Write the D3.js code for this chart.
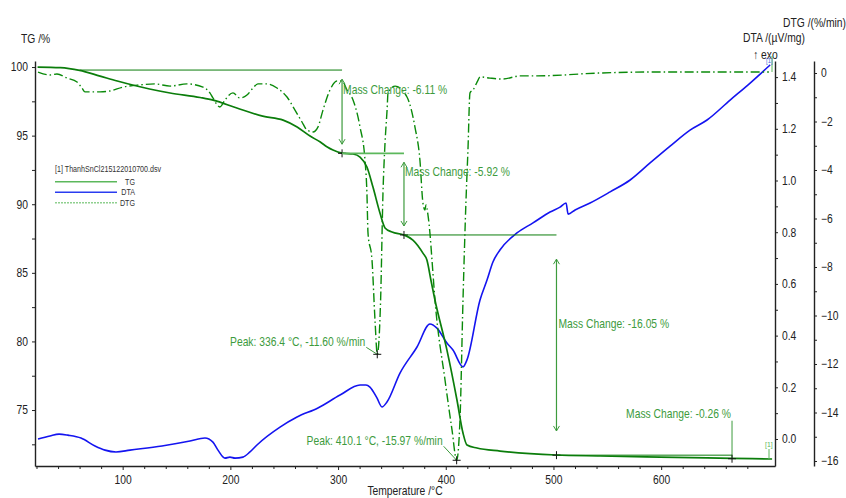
<!DOCTYPE html>
<html>
<head>
<meta charset="utf-8">
<script src="https://cdn.jsdelivr.net/npm/d3@7/dist/d3.min.js"></script>
<style>
  html, body { margin: 0; padding: 0; background: #fff; }
  svg { display: block; font-family: "Liberation Sans Narrow", "Arial Narrow", "Liberation Sans", Arial, sans-serif; }
</style>
</head>
<body>
<div id="chart"></div>
<script>
// TG curve (temperature °C, mass %)
const tgTemp = [21, 42, 60, 79, 95, 125, 144, 172, 184, 206, 230, 249, 262, 274, 283.5, 290, 295.3, 303.7, 314, 320.4,
  326.8, 332.4, 338.9, 343.6, 350.1, 361.2, 369.5, 378.8, 382.5, 386.2, 390, 401.1, 410.4, 416, 419.7, 429, 450.4,
  502.5, 543.3, 599, 665.8, 703];
const tgVal = [100.0, 99.96, 99.76, 99.34, 98.98, 98.40, 98.11, 97.78, 97.59, 97.01, 96.42, 96.13, 95.63, 94.97, 94.53, 94.17, 93.95, 93.73, 93.66, 93.44,
  92.71, 91.25, 89.36, 88.27, 87.97, 87.76, 87.39, 86.44, 85.93, 84.48, 83.0, 79.37, 75.73, 73.32, 72.45, 72.23, 72.01,
  71.72, 71.65, 71.57, 71.48, 71.43];

// DTA curve (temperature °C, µV/mg)
const dtaTemp = [21.4, 32.5, 40.9, 49.2, 61.3, 74.3, 83.6, 93.8, 106.8, 136.5, 162.5, 176.4, 183.8, 188.5, 195, 199.6, 204.3, 211.7, 218.2, 224.7,
  246.1, 261.9, 281.3, 301.8, 320.4, 325.9, 329.6, 336.1, 340.8, 345.4, 357.5, 373.3, 385.3, 391.8, 401.1, 406.7, 416, 419.7, 431.8, 438.3,
  443.8, 450.3, 466.1, 481, 496.8, 506.1, 511.7, 513.6, 520.1, 534, 552.6, 571.2, 589.7, 608.3, 626.8, 642.6, 664, 682.6, 701.2];
const dtaVal = [0.000, 0.012, 0.019, 0.015, 0.004, -0.027, -0.043, -0.050, -0.043, -0.027, -0.008, 0.004, -0.012, -0.043, -0.074, -0.070, -0.074, -0.070, -0.050, -0.023,
  0.046, 0.085, 0.120, 0.170, 0.209, 0.209, 0.201, 0.159, 0.124, 0.143, 0.255, 0.356, 0.445, 0.429, 0.371, 0.344, 0.279, 0.306, 0.538, 0.615,
  0.685, 0.731, 0.797, 0.836, 0.878, 0.897, 0.913, 0.870, 0.886, 0.913, 0.956, 1.002, 1.068, 1.133, 1.195, 1.234, 1.311, 1.377, 1.447];

// DTG curve (temperature °C, %/min)
const dtgTemp = [21.4, 32.5, 39, 48.3, 57.6, 62.2, 65, 79, 88.2, 100.3, 116, 130, 144, 159.7, 174.6, 181, 183.8, 190.3, 195, 202.4,
  208.8, 215.4, 221, 225.6, 234, 243.3, 252.6, 260, 266.5, 271.1, 276.7, 281.3, 286, 292.5, 299, 303.7, 308.3, 313.9, 320.4, 325,
  326.8, 327.8, 331.5, 334.3, 336.4, 339.5, 341.7, 343.6, 345.5, 346.4, 353, 364, 371.4, 376, 378.8, 380.7, 381.6, 383.5, 385.3, 387.2,
  390, 399.3, 405.8, 410.1, 413.2, 416, 418.8, 420.6, 422.5, 425.3, 430, 431.8, 441, 453, 468.9, 484.7, 543, 589.6, 636, 700];
const dtgVal = [0.04, -0.08, -0.04, -0.21, -0.37, -0.62, -0.78, -0.78, -0.74, -0.58, -0.49, -0.45, -0.54, -0.45, -0.58, -0.82, -1.03, -1.40, -1.11, -0.82,
  -1.03, -0.91, -0.62, -0.45, -0.45, -0.62, -0.99, -1.53, -2.02, -2.35, -2.43, -2.23, -1.53, -0.70, -0.33, -0.33, -0.70, -1.11, -2.23, -3.59,
  -4.95, -6.60, -7.71, -10.19, -11.60, -9.36, -4.95, -2.89, -1.53, -0.82, -0.54, -0.99, -2.23, -3.59, -5.36, -5.65, -5.44, -5.86, -6.60, -7.71,
  -9.36, -12.66, -14.72, -15.97, -14.31, -9.36, -5.24, -3.18, -0.82, -0.70, -0.29, -0.16, -0.21, -0.25, -0.12, -0.12, 0.0, 0.04, 0.04, 0.04];

// ticks
const xTicks = [100, 200, 300, 400, 500, 600];
const tgTicks = [75, 80, 85, 90, 95, 100];
const dtaTicks = [0.0, 0.2, 0.4, 0.6, 0.8, 1.0, 1.2, 1.4];
const dtgTicks = [0, -2, -4, -6, -8, -10, -12, -14, -16];

// mass-change steps: horizontal from t0 to t1 at "from", arrow at t1 down to "to"
const stepT0 = [60, 303.7, 361.2, 502.8];
const stepT1 = [303.7, 361.2, 502.8, 665.8];
const stepFrom = [99.78, 93.71, 87.76, 71.71];
const stepTo = [93.71, 87.76, 71.71, 71.45];
const stepLabels = ['Mass Change: -6.11 %', 'Mass Change: -5.92 %', 'Mass Change: -16.05 %', 'Mass Change: -0.26 %'];

// DTG peaks
const peakT = [336.4, 410.1];
const peakV = [-11.60, -15.97];

const W = 846, H = 498;
const plot = { left: 35, right: 775, top: 61, bottom: 466 };
const dtgAxisX = 814;

const cTG = '#0b7d0b', cDTA = '#1414f0', cDTG = '#0a8a0a', cNote = '#3d9b3d';

const svg = d3.select('#chart').append('svg').attr('width', W).attr('height', H);

const x = d3.scaleLinear().domain([18.6, 705.7]).range([plot.left, plot.right]);
const yTG = d3.scaleLinear().domain([70.92, 100.44]).range([plot.bottom, plot.top]);
const yDTA = d3.scaleLinear().domain([-0.1044, 1.4623]).range([plot.bottom, plot.top]);
const yDTG = d3.scaleLinear().domain([-16.206, 0.495]).range([plot.bottom, plot.top]);

// axes
function styleAxis(g, fs) {
  g.select('.domain').attr('stroke', '#222').attr('stroke-width', 1.4);
  g.selectAll('.tick line').attr('stroke', '#222');
  g.selectAll('.tick text').attr('fill', '#222').attr('font-size', fs).attr('font-family', null);
}

function minorTicks(axis, transform) {
  svg.append('g').attr('transform', transform)
    .call(axis.tickSize(3).tickFormat(''))
    .call(g => { g.select('.domain').remove(); g.selectAll('line').attr('stroke', '#222'); });
}

const xAxis = svg.append('g').attr('transform', `translate(0,${plot.bottom})`)
  .call(d3.axisBottom(x).tickValues(xTicks).tickSize(4).tickSizeOuter(0).tickPadding(5));
styleAxis(xAxis, 12);
minorTicks(d3.axisBottom(x).tickValues(d3.range(20, 701, 20).filter(v => v % 100 !== 0)), `translate(0,${plot.bottom})`);

const leftAxis = svg.append('g').attr('transform', `translate(${plot.left},0)`)
  .call(d3.axisLeft(yTG).tickValues(tgTicks).tickSize(3).tickSizeOuter(0).tickPadding(4));
styleAxis(leftAxis, 12);
minorTicks(d3.axisLeft(yTG).tickValues([72.5, 77.5, 82.5, 87.5, 92.5, 97.5]), `translate(${plot.left},0)`);

const dtaAxis = svg.append('g').attr('transform', `translate(${plot.right},0)`)
  .call(d3.axisRight(yDTA).tickValues(dtaTicks).tickFormat(d3.format('.1f')).tickSize(3).tickSizeOuter(0).tickPadding(4));
styleAxis(dtaAxis, 12);
minorTicks(d3.axisRight(yDTA).tickValues([0.1, 0.3, 0.5, 0.7, 0.9, 1.1, 1.3]), `translate(${plot.right},0)`);

const dtgAxis = svg.append('g').attr('transform', `translate(${dtgAxisX},0)`)
  .call(d3.axisRight(yDTG).tickValues(dtgTicks).tickSize(3).tickSizeOuter(0).tickPadding(4));
styleAxis(dtgAxis, 12);
minorTicks(d3.axisRight(yDTG).tickValues(d3.range(-15, 0, 2)), `translate(${dtgAxisX},0)`);

// axis titles
const titles = svg.append('g').attr('fill', '#222').attr('font-size', 12);
titles.append('text').attr('x', 21).attr('y', 43).text('TG /%');
titles.append('text').attr('x', 783).attr('y', 27).text('DTG /(%/min)');
titles.append('text').attr('x', 743).attr('y', 42).text('DTA /(µV/mg)');
titles.append('text').attr('x', 753).attr('y', 59).text('↑ exo');
titles.append('text').attr('x', 405).attr('y', 495).attr('text-anchor', 'middle').text('Temperature /°C');

// curves
const tgData = tgTemp.map((t, i) => [t, tgVal[i]]);
const dtaData = dtaTemp.map((t, i) => [t, dtaVal[i]]);
const dtgData = dtgTemp.map((t, i) => [t, dtgVal[i]]);

svg.append('path').datum(dtaData)
  .attr('fill', 'none').attr('stroke', cDTA).attr('stroke-width', 1.6)
  .attr('d', d3.line().x(d => x(d[0])).y(d => yDTA(d[1])).curve(d3.curveMonotoneX));

svg.append('path').datum(dtgData)
  .attr('fill', 'none').attr('stroke', cDTG).attr('stroke-width', 1.4)
  .attr('stroke-dasharray', '9,3,1.5,3')
  .attr('d', d3.line().x(d => x(d[0])).y(d => yDTG(d[1])).curve(d3.curveMonotoneX));

svg.append('path').datum(tgData)
  .attr('fill', 'none').attr('stroke', cTG).attr('stroke-width', 1.7)
  .attr('d', d3.line().x(d => x(d[0])).y(d => yTG(d[1])).curve(d3.curveMonotoneX));

// markers
function cross(px, py) {
  svg.append('path')
    .attr('d', `M${px - 4},${py}H${px + 4}M${px},${py - 4}V${py + 4}`)
    .attr('stroke', '#111').attr('stroke-width', 1);
}

function arrowHead(px, py, dir) {
  // dir = 1 points down, -1 points up
  svg.append('path')
    .attr('d', `M${px - 3},${py - 5 * dir}L${px},${py}L${px + 3},${py - 5 * dir}`)
    .attr('fill', 'none').attr('stroke', cNote).attr('stroke-width', 1);
}

// mass change annotations
const notes = svg.append('g').attr('fill', cNote).attr('font-size', 12);
stepT1.forEach((t1, i) => {
  const xa = x(t1);
  const yFrom = yTG(stepFrom[i]);
  const yTo = yTG(stepTo[i]);
  svg.append('line')
    .attr('x1', x(stepT0[i])).attr('x2', xa)
    .attr('y1', yFrom).attr('y2', yFrom)
    .attr('stroke', i === 1 ? '#5cb85c' : cTG).attr('stroke-width', i === 1 ? 1.6 : 1);

  if (i < 3) {
    const pad = (yTo - yFrom) * 0.11;
    svg.append('line').attr('x1', xa).attr('x2', xa)
      .attr('y1', yFrom + pad).attr('y2', yTo - pad)
      .attr('stroke', cNote).attr('stroke-width', 1.2);
    arrowHead(xa, yTo - pad, 1);
    arrowHead(xa, yFrom + pad, -1);
  } else {
    svg.append('line').attr('x1', xa).attr('x2', xa)
      .attr('y1', yTo - 38).attr('y2', yTo)
      .attr('stroke', cNote).attr('stroke-width', 1);
  }
  cross(xa, yTo);

  const lbl = notes.append('text').text(stepLabels[i]);
  if (i === 0) lbl.attr('x', xa + 1).attr('y', yFrom + 24);
  else if (i === 1) lbl.attr('x', xa + 1).attr('y', yFrom + 23);
  else if (i === 2) lbl.attr('x', xa + 2).attr('y', (yFrom + yTo) / 2 - 17);
  else lbl.attr('x', xa - 1).attr('y', yTo - 41).attr('text-anchor', 'end');
});

// peak annotations
peakT.forEach((t, i) => {
  const px = x(t), py = yDTG(peakV[i]);
  const dx = i === 0 ? 12 : 14, dy = i === 0 ? 8 : 15;
  svg.append('line')
    .attr('x1', px - dx + 1).attr('y1', py - dy + 1)
    .attr('x2', px).attr('y2', py)
    .attr('stroke', cNote).attr('stroke-width', 1);
  cross(px, py);
  notes.append('text')
    .attr('x', px - dx).attr('y', py - dy)
    .attr('text-anchor', 'end')
    .text(`Peak: ${t.toFixed(1)} °C, ${peakV[i].toFixed(2)} %/min`);
});

// curve end labels "[1]"
svg.append('line').attr('x1', 769).attr('x2', 769).attr('y1', 449).attr('y2', 459)
  .attr('stroke', '#5cb85c').attr('stroke-width', 1);
svg.append('text').attr('x', 765).attr('y', 447).attr('font-size', 8)
  .attr('fill', '#5cb85c').text('[1]');
svg.append('line').attr('x1', 772).attr('x2', 772).attr('y1', 56).attr('y2', 72)
  .attr('stroke', '#5cb85c').attr('stroke-width', 1);
svg.append('text').attr('x', 766).attr('y', 63).attr('font-size', 7)
  .attr('fill', '#4a6ad8').text('[1]');

// legend
const legend = svg.append('g').attr('font-size', 8.3).attr('fill', '#333');
legend.append('text').attr('x', 55).attr('y', 172).text('[1] ThanhSnCl215122010700.dsv');
const legendItems = [
  { name: 'TG', color: '#5cb85c', dash: null, y: 181.7 },
  { name: 'DTA', color: '#2a3cf0', dash: null, y: 192.3 },
  { name: 'DTG', color: '#8fd08f', dash: '2,1', y: 202.7 }
];
legendItems.forEach(it => {
  legend.append('line').attr('x1', 55).attr('x2', 117).attr('y1', it.y).attr('y2', it.y)
    .attr('stroke', it.color).attr('stroke-width', 1.5).attr('stroke-dasharray', it.dash);
  legend.append('text').attr('x', 135).attr('y', it.y + 3).attr('text-anchor', 'end').text(it.name);
});

// the original uses a condensed face; squeeze every text round its anchor
svg.selectAll('text').each(function () {
  const t = d3.select(this);
  const tx = +t.attr('x') || 0, ty = +t.attr('y') || 0;
  t.attr('transform', `translate(${tx},${ty}) scale(0.86,1) translate(${-tx},${-ty})`);
});
</script>
</body>
</html>
